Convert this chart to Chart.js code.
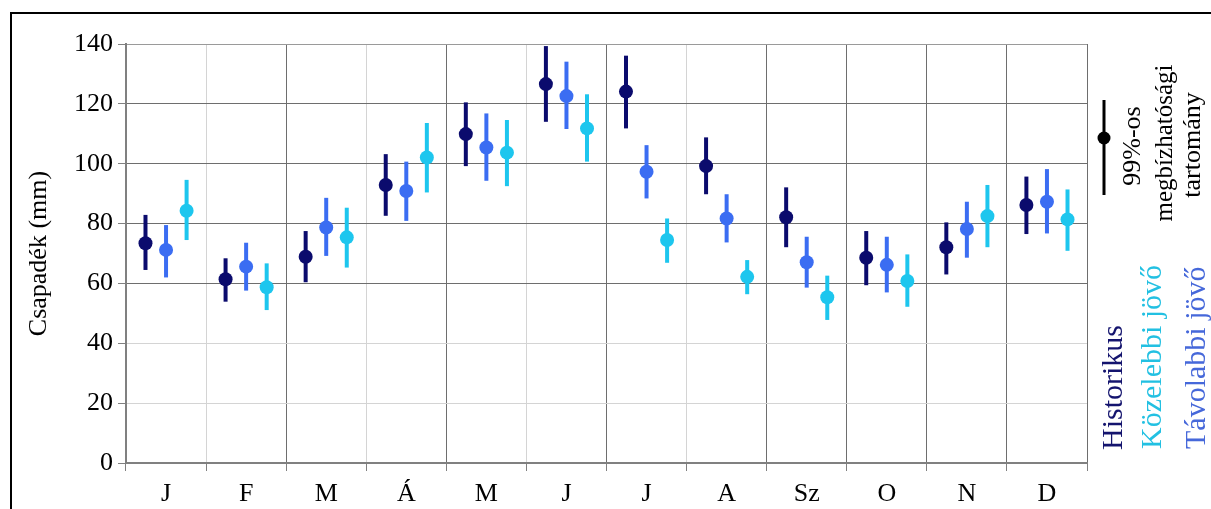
<!DOCTYPE html>
<html>
<head>
<meta charset="utf-8">
<script src="https://cdn.jsdelivr.net/npm/chart.js@4/dist/chart.umd.min.js"></script>
<style>
  html, body { margin: 0; padding: 0; background: #fff; }
  #wrap { width: 1211px; height: 509px; position: relative; }
</style>
</head>
<body>
<div id="wrap"><canvas id="chart" width="1211" height="509"></canvas></div>
<script>
// monthly precipitation (mm), mean with 99% confidence range
const months = ['J', 'F', 'M', 'Á', 'M', 'J', 'J', 'A', 'Sz', 'O', 'N', 'D'];
const yTicks = [0, 20, 40, 60, 80, 100, 120, 140];

const histMean = [73.4, 61.4, 68.9, 92.9, 109.9, 126.6, 124.1, 99.2, 82.1, 68.6, 72.1, 86.2];
const histLow  = [64.5, 53.9, 60.4, 82.6, 99.2, 114.0, 111.8, 89.8, 72.1, 59.4, 63.0, 76.5];
const histHigh = [82.9, 68.4, 77.5, 103.2, 120.5, 139.3, 136.1, 108.8, 92.1, 77.5, 80.4, 95.7];

const farMean = [71.2, 65.6, 78.7, 90.9, 105.4, 122.6, 97.3, 81.7, 67.1, 66.2, 78.2, 87.3];
const farLow  = [62.0, 57.6, 69.2, 80.9, 94.3, 111.6, 88.4, 73.7, 58.6, 57.0, 68.6, 76.7];
const farHigh = [79.5, 73.6, 88.6, 100.7, 116.8, 134.1, 106.2, 89.8, 75.6, 75.6, 87.3, 98.2];

const nearMean = [84.3, 58.7, 75.4, 102.1, 103.7, 111.8, 74.5, 62.2, 55.4, 60.8, 82.5, 81.4];
const nearLow  = [74.5, 51.1, 65.3, 90.4, 92.5, 100.7, 66.9, 56.4, 47.8, 52.2, 72.1, 70.9];
const nearHigh = [94.6, 66.7, 85.3, 113.6, 114.6, 123.2, 81.7, 67.8, 62.6, 69.7, 92.9, 91.4];

const NAVY = '#0b0b6d';
const BLUE = '#3b6df2';
const CYAN = '#1dc6ee';
const FONT = '"Liberation Serif", "Times New Roman", serif';

const range = (lo, hi) => lo.map((v, i) => [v, hi[i]]);

// dots for the means, drawn on top of the floating range bars
const meanDots = {
  id: 'meanDots',
  afterDatasetsDraw(chart) {
    const ctx = chart.ctx;
    const y = chart.scales.y;
    chart.data.datasets.forEach((ds, di) => {
      const meta = chart.getDatasetMeta(di);
      meta.data.forEach((bar, i) => {
        ctx.beginPath();
        ctx.arc(bar.x, y.getPixelForValue(ds.means[i]), 7, 0, Math.PI * 2);
        ctx.fillStyle = ds.backgroundColor;
        ctx.fill();
      });
    });
  }
};

// frame and the rotated legend on the right
const sideLegend = {
  id: 'sideLegend',
  afterDraw(chart) {
    const ctx = chart.ctx;
    ctx.save();
    ctx.strokeStyle = '#000';
    ctx.lineWidth = 2;
    ctx.beginPath();
    ctx.moveTo(11, 509);
    ctx.lineTo(11, 13);
    ctx.lineTo(1211, 13);
    ctx.stroke();

    // symbol
    ctx.lineWidth = 3;
    ctx.beginPath();
    ctx.moveTo(1104, 100);
    ctx.lineTo(1104, 195);
    ctx.stroke();
    ctx.beginPath();
    ctx.arc(1104, 138, 6.5, 0, Math.PI * 2);
    ctx.fillStyle = '#000';
    ctx.fill();

    const vtext = (txt, x, y, color, align, size) => {
      ctx.save();
      ctx.translate(x, y);
      ctx.rotate(-Math.PI / 2);
      ctx.font = size + 'px ' + FONT;
      ctx.fillStyle = color;
      ctx.textAlign = align;
      ctx.textBaseline = 'alphabetic';
      ctx.fillText(txt, 0, 0);
      ctx.restore();
    };
    vtext('99%-os', 1140, 146, '#000', 'center', 26);
    vtext('megbízhatósági', 1172, 143, '#000', 'center', 25);
    vtext('tartomány', 1200, 145, '#000', 'center', 26);

    vtext('Historikus', 1122, 450, '#14146e', 'left', 30);
    vtext('Közelebbi jövő', 1161, 449, '#22c0e2', 'left', 30);
    vtext('Távolabbi jövő', 1205, 449, '#4668da', 'left', 30);
    ctx.restore();
  }
};

const makeSet = (label, lo, hi, mean, color) => ({
  label: label,
  data: range(lo, hi),
  means: mean,
  backgroundColor: color,
  borderWidth: 0,
  maxBarThickness: 4,
  barPercentage: 0.5,
  categoryPercentage: 0.77
});

new Chart(document.getElementById('chart'), {
  type: 'bar',
  data: {
    labels: months,
    datasets: [
      makeSet('Historikus', histLow, histHigh, histMean, NAVY),
      makeSet('Távolabbi jövő', farLow, farHigh, farMean, BLUE),
      makeSet('Közelebbi jövő', nearLow, nearHigh, nearMean, CYAN)
    ]
  },
  options: {
    responsive: false,
    animation: false,
    layout: { padding: { left: 10, right: 124, top: 44, bottom: 0 } },
    plugins: {
      legend: { display: false },
      tooltip: { enabled: false }
    },
    scales: {
      x: {
        offset: true,
        grid: {
          offset: true,
          lineWidth: 1,
          tickLength: 8,
          tickColor: '#808080',
          color: (c) => {
            const i = c.index;
            if (i === 12) return '#9a9a9a';
            if (i === 1 || i === 3 || i === 5 || i === 7) return '#d4d4d4';
            return '#6e6e6e';
          }
        },
        border: { color: '#808080', width: 2 },
        ticks: { color: '#000', padding: 8, font: { family: FONT, size: 26 } },
        afterFit: (s) => { s.height = 46; }
      },
      y: {
        min: 0,
        max: 140,
        afterBuildTicks: (s) => { s.ticks = yTicks.map(v => ({ value: v })); },
        grid: {
          tickLength: 8,
          tickColor: '#808080',
          color: (c) => {
            const v = c.tick ? c.tick.value : 0;
            if (v === 20 || v === 40) return '#d4d4d4';
            if (v === 140) return '#9a9a9a';
            return '#6e6e6e';
          }
        },
        border: { color: '#808080', width: 2 },
        ticks: { color: '#000', padding: 5, font: { family: FONT, size: 26 } },
        title: {
          display: true,
          text: 'Csapadék (mm)',
          color: '#000',
          padding: { top: 14, bottom: 0 },
          font: { family: FONT, size: 26 }
        },
        afterFit: (s) => { s.width = 116; }
      }
    }
  },
  plugins: [meanDots, sideLegend]
});
</script>
</body>
</html>
